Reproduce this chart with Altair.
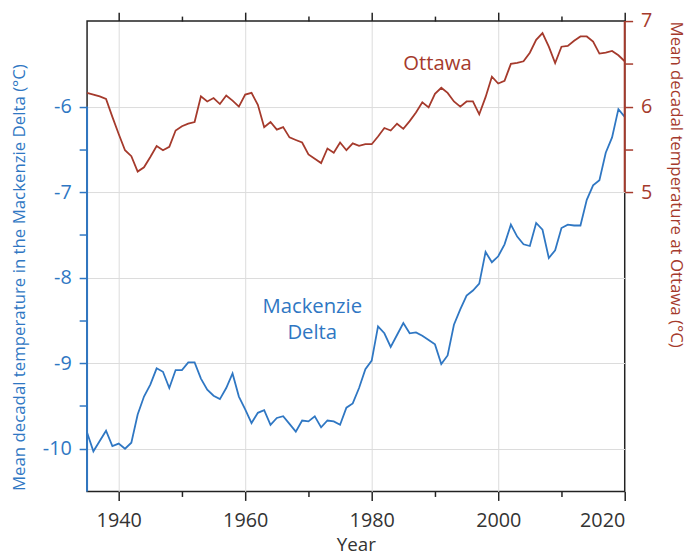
import altair as alt
import pandas as pd

years = list(range(1935, 2021))

mackenzie = [
    -9.81, -10.03, -9.91, -9.79, -9.97, -9.94, -10.00, -9.93, -9.60, -9.39,
    -9.25, -9.06, -9.10, -9.29, -9.08, -9.08, -8.99, -8.99, -9.18, -9.31,
    -9.38, -9.42, -9.29, -9.12, -9.39, -9.54, -9.70, -9.58, -9.55, -9.72,
    -9.64, -9.62, -9.71, -9.80, -9.67, -9.68, -9.62, -9.75, -9.67, -9.68,
    -9.72, -9.52, -9.47, -9.29, -9.07, -8.97, -8.57, -8.65, -8.81, -8.67,
    -8.53, -8.65, -8.64, -8.68, -8.73, -8.78, -9.01, -8.91, -8.55, -8.37,
    -8.21, -8.15, -8.07, -7.70, -7.82, -7.75, -7.61, -7.38, -7.52, -7.61,
    -7.63, -7.36, -7.44, -7.77, -7.68, -7.42, -7.38, -7.39, -7.39, -7.09,
    -6.92, -6.86, -6.54, -6.36, -6.03, -6.12,
]

ottawa = [
    6.16, 6.14, 6.12, 6.09, 5.88, 5.68, 5.49, 5.42, 5.24, 5.29,
    5.41, 5.54, 5.49, 5.53, 5.72, 5.77, 5.80, 5.82, 6.12, 6.06,
    6.10, 6.03, 6.13, 6.07, 6.00, 6.14, 6.16, 6.02, 5.76, 5.82,
    5.73, 5.76, 5.64, 5.61, 5.58, 5.44, 5.39, 5.34, 5.51, 5.46,
    5.58, 5.49, 5.57, 5.54, 5.56, 5.56, 5.65, 5.75, 5.72, 5.80,
    5.74, 5.83, 5.93, 6.05, 5.99, 6.15, 6.22, 6.16, 6.06, 6.00,
    6.06, 6.06, 5.91, 6.11, 6.35, 6.27, 6.30, 6.50, 6.51, 6.53,
    6.63, 6.78, 6.86, 6.70, 6.51, 6.70, 6.71, 6.77, 6.82, 6.82,
    6.76, 6.62, 6.63, 6.65, 6.60, 6.53,
]

x_ticks = list(range(1940, 2021, 10))
left_ticks = [-10, -9.5, -9, -8.5, -8, -7.5, -7, -6.5, -6]
right_ticks = [5, 5.5, 6, 6.5, 7]

x_domain = [1935, 2020]
left_domain = [-10.5, -5]
right_domain = [1.5, 7]

# annotation anchors (data coordinates)
ottawa_label = {"year": 1990.4, "value": 6.50}
mack_label = {"year": 1970.6, "value": -8.34}
left_seg = [-10.5, -6]
right_seg = [5, 7]

df = pd.DataFrame({"year": years, "mack": mackenzie, "ott": ottawa})
one = pd.DataFrame({"k": [0]})

BLUE = "#2f77c3"
RED = "#a53a2c"
DARK = "#333333"
FONT = "Open Sans"
GRID = "#dcdcdc"

xscale = alt.Scale(domain=x_domain, nice=False, zero=False)
lscale = alt.Scale(domain=left_domain, nice=False, zero=False)
rscale = alt.Scale(domain=right_domain, nice=False, zero=False)

x_tick_len = {"condition": {"test": "datum.value % 20 == 0", "value": 9}, "value": 5}

x_bottom_axis = alt.Axis(
    orient="bottom", values=x_ticks,
    labelExpr="datum.value % 20 == 0 ? '' + datum.value : ''",
    labelOverlap=False, labelFont=FONT, labelFontSize=20, labelColor=DARK,
    labelPadding=10, tickColor="#222", tickWidth=1.5, tickSize=x_tick_len,
    domain=False, grid=True, gridColor=GRID, gridWidth=1,
    gridOpacity={"condition": {"test": "datum.value % 20 == 0 && datum.value < 2020", "value": 1}, "value": 0},
    title="Year", titleFont=FONT, titleFontSize=19, titleFontWeight="normal",
    titleColor=DARK, titleBaseline="alphabetic", titleY=60,
)

x_top_axis = alt.Axis(
    orient="top", values=x_ticks, labels=False, title=None,
    tickColor="#222", tickWidth=1.5, tickSize=x_tick_len, domain=False, grid=False,
)

left_axis = alt.Axis(
    orient="left", values=left_ticks,
    labelExpr="datum.value % 1 == 0 ? '' + datum.value : ''",
    labelOverlap=False, labelFont=FONT, labelFontSize=20, labelColor=BLUE,
    labelPadding=8, tickColor=BLUE, tickWidth=1.5, tickSize=8,
    domain=False, grid=True, gridColor=GRID, gridWidth=1,
    gridOpacity={"condition": {"test": "datum.value % 1 == 0", "value": 1}, "value": 0},
    title="Mean decadal temperature in the Mackenzie Delta (°C)",
    titleFont=FONT, titleFontSize=17, titleFontWeight="normal", titleColor=BLUE,
    titleAngle=270, titleAlign="left", titleBaseline="middle", titleX=-68, titleY=475,
)

right_axis = alt.Axis(
    orient="right", values=right_ticks,
    labelExpr="datum.value % 1 == 0 ? '' + datum.value : ''",
    labelOverlap=False, labelFont=FONT, labelFontSize=20, labelColor=RED,
    labelPadding=8, tickColor=RED, tickWidth=1.5, tickSize=8,
    domain=False, grid=False,
    title="Mean decadal temperature at Ottawa (°C)",
    titleFont=FONT, titleFontSize=17, titleFontWeight="normal", titleColor=RED,
    titleAngle=90, titleAlign="left", titleBaseline="middle", titleX=51, titleY=0,
)

mack_line = alt.Chart(df).mark_line(color=BLUE, strokeWidth=1.8).encode(
    x=alt.X("year:Q", scale=xscale, axis=x_bottom_axis),
    y=alt.Y("mack:Q", scale=lscale, axis=left_axis),
)
mack_text = alt.Chart(one).mark_text(
    text=["Mackenzie", "Delta"], color=BLUE, font=FONT, fontSize=20.5,
    lineHeight=27, baseline="middle", align="center",
).encode(
    x=alt.X(datum=mack_label["year"], scale=xscale, axis=None),
    y=alt.Y(datum=mack_label["value"], scale=lscale, axis=None),
)
blue_seg = alt.Chart(one).mark_rule(color=BLUE, strokeWidth=2).encode(
    x=alt.X(datum=x_domain[0], scale=xscale, axis=None),
    y=alt.Y(datum=left_seg[0], scale=lscale, axis=None),
    y2=alt.Y2(datum=left_seg[1]),
)

ott_line = alt.Chart(df).mark_line(color=RED, strokeWidth=1.8).encode(
    x=alt.X("year:Q", scale=xscale, axis=x_top_axis),
    y=alt.Y("ott:Q", scale=rscale, axis=right_axis),
)
ott_text = alt.Chart(one).mark_text(
    text="Ottawa", color=RED, font=FONT, fontSize=20.5, baseline="middle", align="center",
).encode(
    x=alt.X(datum=ottawa_label["year"], scale=xscale, axis=None),
    y=alt.Y(datum=ottawa_label["value"], scale=rscale, axis=None),
)
red_seg = alt.Chart(one).mark_rule(color=RED, strokeWidth=2).encode(
    x=alt.X(datum=x_domain[1], scale=xscale, axis=None),
    y=alt.Y(datum=right_seg[0], scale=rscale, axis=None),
    y2=alt.Y2(datum=right_seg[1]),
)

chart = alt.layer(
    mack_line, ott_line, mack_text, ott_text, blue_seg, red_seg
).resolve_scale(
    x="independent", y="independent"
).properties(
    width=544, height=476,
    padding={"left": 80, "top": 10, "right": 62, "bottom": 58},
    autosize=alt.AutoSizeParams(type="none"),
).configure_view(stroke="#222", strokeWidth=1.5)

chart.save("out.html", embed_options={"renderer": "svg", "actions": False})
